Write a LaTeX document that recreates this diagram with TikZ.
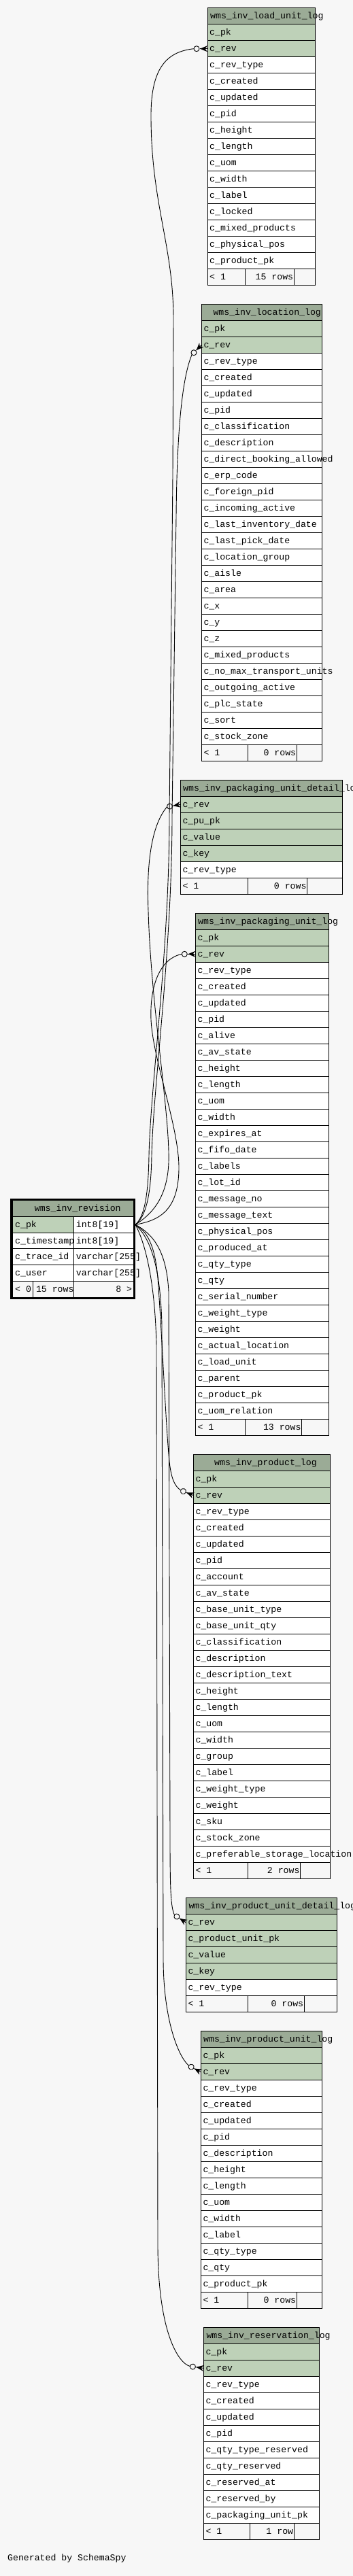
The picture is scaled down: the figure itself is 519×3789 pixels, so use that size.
\documentclass[tikz,border=0pt]{standalone}
\usepackage{fontspec}
\newfontfamily\schfont{Liberation Mono}
\definecolor{bgc}{HTML}{F7F7F7}
\definecolor{hdrc}{HTML}{9BAB96}
\definecolor{keyc}{HTML}{BED1B8}
\tikzset{
  cell/.style={draw=black, line width=1pt, inner sep=0pt, outer sep=0pt, minimum height=24pt, anchor=north west},
  txt/.style={font={\schfont\fontsize{13.2pt}{15pt}\selectfont}, inner sep=0pt, anchor=base west},
  txte/.style={txt, anchor=base east},
  conn/.style={draw=black, line width=0.9pt},
  crowo/.pic={
    \fill[black] (-11,0) -- (0,-4.5) -- (-3.5,0) -- (0,4.5) -- cycle;
    \draw[line width=0.9pt] (-11,0) -- (0,0);
    \draw[line width=0.9pt, fill=bgc] (-16,0) circle[radius=4pt];
    \coordinate (-t) at (-20,0);
  }
}
% #1 prefix, #2 L, #3 R, #4 top, #5 header text x, #6 header text
\newcommand\loghead[6]{%
  \node[cell, fill=hdrc, minimum width={#3pt-#2pt}] (#1-h) at (#2,#4) {};
  \node[txt] (#1-ht) at (#5,{#4+16}) {#6};
}
% #1 prefix, #2 L, #3 R, #4 top of header, #5 list colour/text
\newcommand\logrows[5]{%
  \foreach [count=\ri] \rc/\rt in {#5} {
    \node[cell, fill=\rc, minimum width={#3pt-#2pt}] (#1-\ri) at (#2,{#4+24*\ri}) {};
    \node[txt] (#1-t\ri) at ({#2+3},{#4+24*\ri+16}) {\rt};
  }
}
% #1 prefix, #2 L, #3 c1, #4 c2, #5 R, #6 top, #7 left text, #8 mid text
\newcommand\logfoot[8]{%
  \node[cell, fill=bgc, minimum width={#3pt-#2pt}] (#1-fa) at (#2,#6) {};
  \node[cell, fill=bgc, minimum width={#4pt-#3pt}] (#1-fb) at (#3,#6) {};
  \node[cell, fill=bgc, minimum width={#5pt-#4pt}] (#1-fc) at (#4,#6) {};
  \node[txt] (#1-fat) at ({#2+3},{#6+16}) {#7};
  \node[txte] (#1-fbt) at ({#4-1},{#6+16}) {#8};
}
\begin{document}
\begin{tikzpicture}[x=1pt, y=-1pt]
\fill[bgc] (0,0) rectangle (519,3789);
\useasboundingbox (0,0) rectangle (519,3789);

% ---------- wms_inv_load_unit_log
\loghead{lu}{305}{463.3}{11.7}{309}{wms\_inv\_load\_unit\_log}
\logrows{lu}{305}{463.3}{11.7}{keyc/c\_pk, keyc/c\_rev, white/c\_rev\_type, white/c\_created, white/c\_updated, white/c\_pid, white/c\_height, white/c\_length, white/c\_uom, white/c\_width, white/c\_label, white/c\_locked, white/c\_mixed\_products, white/c\_physical\_pos, white/c\_product\_pk}
\logfoot{lu}{305}{360.3}{432.3}{463.3}{395.7}{< 1}{15 rows}

% ---------- wms_inv_location_log
\loghead{lo}{296.3}{473.3}{447.4}{313.3}{wms\_inv\_location\_log}
\logrows{lo}{296.3}{473.3}{447.4}{keyc/c\_pk, keyc/c\_rev, white/c\_rev\_type, white/c\_created, white/c\_updated, white/c\_pid, white/c\_classification, white/c\_description, white/c\_direct\_booking\_allowed, white/c\_erp\_code, white/c\_foreign\_pid, white/c\_incoming\_active, white/c\_last\_inventory\_date, white/c\_last\_pick\_date, white/c\_location\_group, white/c\_aisle, white/c\_area, white/c\_x, white/c\_y, white/c\_z, white/c\_mixed\_products, white/c\_no\_max\_transport\_units, white/c\_outgoing\_active, white/c\_plc\_state, white/c\_sort, white/c\_stock\_zone}
\logfoot{lo}{296.3}{364.3}{436.3}{473.3}{1095.4}{< 1}{0 rows}

% ---------- wms_inv_packaging_unit_detail_log
\loghead{pd}{265.3}{503.3}{1147.3}{269}{wms\_inv\_packaging\_unit\_detail\_log}
\logrows{pd}{265.3}{503.3}{1147.3}{keyc/c\_rev, keyc/c\_pu\_pk, keyc/c\_value, keyc/c\_key, white/c\_rev\_type}
\logfoot{pd}{265.3}{364.3}{451.7}{503.3}{1291.3}{< 1}{0 rows}

% ---------- wms_inv_packaging_unit_log
\loghead{pu}{287.3}{483.3}{1343.3}{291}{wms\_inv\_packaging\_unit\_log}
\logrows{pu}{287.3}{483.3}{1343.3}{keyc/c\_pk, keyc/c\_rev, white/c\_rev\_type, white/c\_created, white/c\_updated, white/c\_pid, white/c\_alive, white/c\_av\_state, white/c\_height, white/c\_length, white/c\_uom, white/c\_width, white/c\_expires\_at, white/c\_fifo\_date, white/c\_labels, white/c\_lot\_id, white/c\_message\_no, white/c\_message\_text, white/c\_physical\_pos, white/c\_produced\_at, white/c\_qty\_type, white/c\_qty, white/c\_serial\_number, white/c\_weight\_type, white/c\_weight, white/c\_actual\_location, white/c\_load\_unit, white/c\_parent, white/c\_product\_pk, white/c\_uom\_relation}
\logfoot{pu}{287.3}{360.3}{443.7}{483.3}{2087.3}{< 1}{13 rows}

% ---------- wms_inv_product_log
\loghead{pr}{284.3}{485.7}{2139.5}{315}{wms\_inv\_product\_log}
\logrows{pr}{284.3}{485.7}{2139.5}{keyc/c\_pk, keyc/c\_rev, white/c\_rev\_type, white/c\_created, white/c\_updated, white/c\_pid, white/c\_account, white/c\_av\_state, white/c\_base\_unit\_type, white/c\_base\_unit\_qty, white/c\_classification, white/c\_description, white/c\_description\_text, white/c\_height, white/c\_length, white/c\_uom, white/c\_width, white/c\_group, white/c\_label, white/c\_weight\_type, white/c\_weight, white/c\_sku, white/c\_stock\_zone, white/c\_preferable\_storage\_location}
\logfoot{pr}{284.3}{364.3}{441.7}{485.7}{2739.5}{< 1}{2 rows}

% ---------- wms_inv_product_unit_detail_log
\loghead{pud}{273.3}{495.3}{2791.7}{277.3}{wms\_inv\_product\_unit\_detail\_log}
\logrows{pud}{273.3}{495.3}{2791.7}{keyc/c\_rev, keyc/c\_product\_unit\_pk, keyc/c\_value, keyc/c\_key, white/c\_rev\_type}
\logfoot{pud}{273.3}{364.3}{447.3}{495.3}{2935.7}{< 1}{0 rows}

% ---------- wms_inv_product_unit_log
\loghead{pul}{295.3}{473.3}{2987.7}{299}{wms\_inv\_product\_unit\_log}
\logrows{pul}{295.3}{473.3}{2987.7}{keyc/c\_pk, keyc/c\_rev, white/c\_rev\_type, white/c\_created, white/c\_updated, white/c\_pid, white/c\_description, white/c\_height, white/c\_length, white/c\_uom, white/c\_width, white/c\_label, white/c\_qty\_type, white/c\_qty, white/c\_product\_pk}
\logfoot{pul}{295.3}{364.7}{436.3}{473.3}{3371.7}{< 1}{0 rows}

% ---------- wms_inv_reservation_log
\loghead{res}{299.3}{469.3}{3423.3}{303.3}{wms\_inv\_reservation\_log}
\logrows{res}{299.3}{469.3}{3423.3}{keyc/c\_pk, keyc/c\_rev, white/c\_rev\_type, white/c\_created, white/c\_updated, white/c\_pid, white/c\_qty\_type\_reserved, white/c\_qty\_reserved, white/c\_reserved\_at, white/c\_reserved\_by, white/c\_packaging\_unit\_pk}
\logfoot{res}{299.3}{367.3}{432.3}{469.3}{3711.3}{< 1}{1 row}

% ---------- wms_inv_revision
\begin{scope}[cell/.append style={minimum height=23.75pt}]
\node[cell, fill=hdrc, minimum width=178pt] (rv-h) at (18.5,1765.7) {};
\node[cell, fill=keyc, minimum width=90.2pt] (rv-pk) at (18.5,1789.45) {};
\node[cell, fill=white, minimum width=87.8pt] (rv-pkt) at (108.7,1789.45) {};
\node[cell, fill=white, minimum width=90.2pt] (rv-ts) at (18.5,1813.2) {};
\node[cell, fill=white, minimum width=87.8pt] (rv-tst) at (108.7,1813.2) {};
\node[cell, fill=white, minimum width=90.2pt] (rv-tr) at (18.5,1836.95) {};
\node[cell, fill=white, minimum width=87.8pt] (rv-trt) at (108.7,1836.95) {};
\node[cell, fill=white, minimum width=90.2pt] (rv-us) at (18.5,1860.7) {};
\node[cell, fill=white, minimum width=87.8pt] (rv-ust) at (108.7,1860.7) {};
\node[cell, fill=bgc, minimum width=30.2pt] (rv-fa) at (18.5,1884.45) {};
\node[cell, fill=bgc, minimum width=60pt] (rv-fb) at (48.7,1884.45) {};
\node[cell, fill=bgc, minimum width=87.8pt] (rv-fc) at (108.7,1884.45) {};
\end{scope}
\draw[line width=3pt] (16.8,1764.2) rectangle (197.8,1909.8);
\node[txt] (rv-ht) at (50.7,1781.7) {wms\_inv\_revision};
\node[txt] (rv-a1) at (22,1805.45) {c\_pk};
\node[txt] (rv-b1) at (111.7,1805.45) {int8[19]};
\node[txt] (rv-a2) at (22,1829.2) {c\_timestamp};
\node[txt] (rv-b2) at (111.7,1829.2) {int8[19]};
\node[txt] (rv-a3) at (22,1852.95) {c\_trace\_id};
\node[txt] (rv-b3) at (111.7,1852.95) {varchar[255]};
\node[txt] (rv-a4) at (22,1876.7) {c\_user};
\node[txt] (rv-b4) at (111.7,1876.7) {varchar[255]};
\node[txt] (rv-f1) at (22,1900.45) {< 0};
\node[txte] (rv-f2) at (108.7,1900.45) {15 rows};
\node[txte] (rv-f3) at (194.3,1900.45) {8 >};
\coordinate (revpk) at (199,1801.3);

% ---------- crow's feet
\pic[rotate=0] (luc) at (lu-2.west) {crowo};
\pic[rotate=45] (loc) at (lo-2.west) {crowo};
\pic[rotate=10] (pdc) at (pd-1.west) {crowo};
\pic[rotate=0] (puc) at (pu-2.west) {crowo};
\pic[rotate=-22] (prc) at (pr-2.west) {crowo};
\pic[rotate=-33] (pudc) at (pud-1.west) {crowo};
\pic[rotate=-28] (pulc) at (pul-2.west) {crowo};
\pic[rotate=-8] (resc) at (res-2.west) {crowo};

% ---------- connectors (upwards)
\draw[conn] (revpk) .. controls (212,1790) and (218,1760) .. (219,1700)
  .. controls (221,1600) and (249,1400) .. (249,1200) -- (254,700) -- (255,470)
  .. controls (255,360) and (222,300) .. (222,170)
  .. controls (222,100) and (245,76) .. (luc-t);
\draw[conn] (revpk) .. controls (214,1790) and (222,1760) .. (223,1700)
  .. controls (225,1600) and (253,1400) .. (253,1200) -- (259,760)
  .. controls (260,650) and (266,560) .. (loc-t);
\draw[conn] (revpk) .. controls (225,1785) and (246,1760) .. (248,1710)
  .. controls (250,1640) and (222,1480) .. (218,1340)
  .. controls (215,1265) and (224,1212) .. (pdc-t);
\draw[conn] (revpk) .. controls (235,1795) and (262,1780) .. (263,1720)
  .. controls (264,1660) and (225,1560) .. (222,1500)
  .. controls (220,1450) and (235,1410) .. (puc-t);
% ---------- connectors (downwards)
\draw[conn] (revpk) .. controls (215,1810) and (228,1830) .. (232,1880)
  .. controls (238,1960) and (244,2100) .. (249,2150)
  .. controls (252,2176) and (257,2186) .. (prc-t);
\draw[conn] (revpk) .. controls (225,1815) and (245,1840) .. (248,1900) -- (250,2700)
  .. controls (250,2780) and (251,2805) .. (pudc-t);
\draw[conn] (revpk) .. controls (220,1820) and (236,1860) .. (238,1950) -- (240,2880)
  .. controls (240,2970) and (262,3025) .. (pulc-t);
\draw[conn] (revpk) .. controls (212,1825) and (228,1880) .. (230,1980) -- (232,3300)
  .. controls (232,3430) and (262,3476) .. (resc-t);

\node[txt] (gen) at (11,3766) {Generated by SchemaSpy};
\end{tikzpicture}
\end{document}
